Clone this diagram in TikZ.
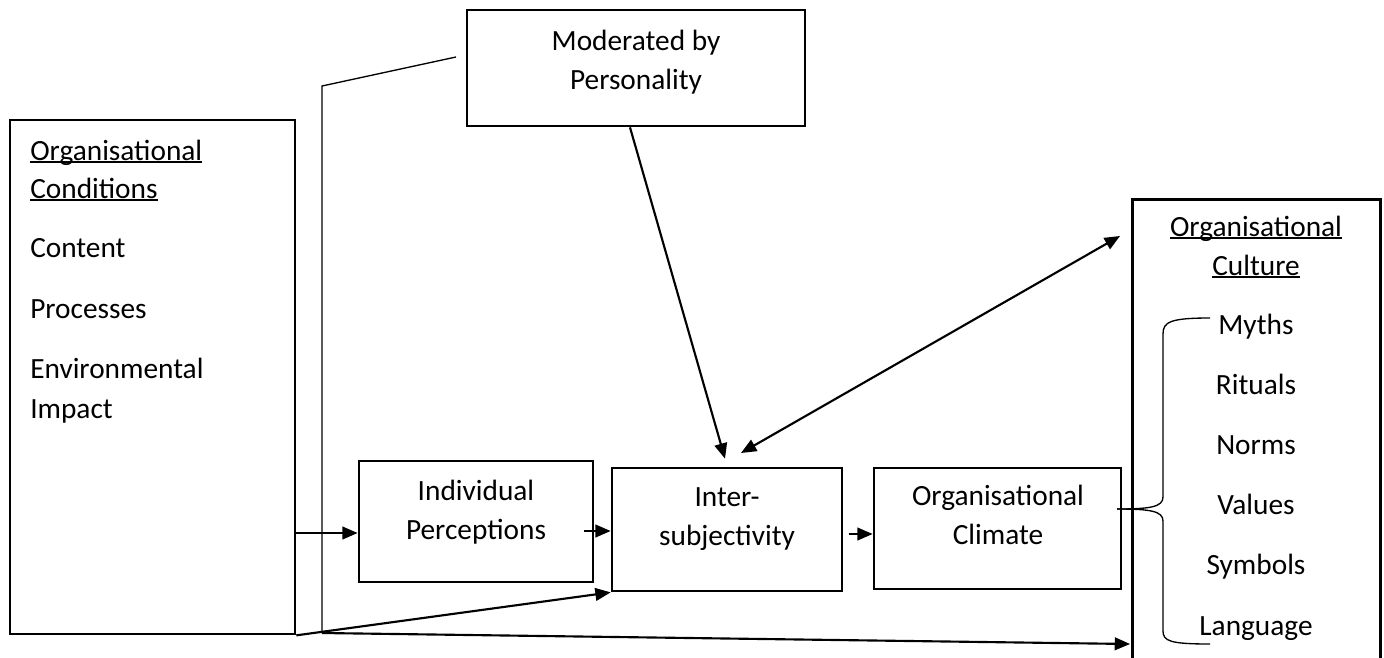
\documentclass[tikz,border=0pt]{standalone}
\usepackage{fontspec}
\setmainfont{Carlito}
\usetikzlibrary{arrows.meta,fit}

\newcommand\ulword[1]{\setbox0\hbox{#1}\rlap{\rule[-2.4pt]{\wd0}{1.4pt}}\box0}

\tikzset{
  box/.style={draw, line width=2pt, inner sep=0pt},
  txt/.style={font=\fontsize{22}{29}\selectfont, inner sep=0pt},
  arr/.style={line width=1.6pt, -{Triangle[length=11.5pt,width=9.5pt]}},
  dblarr/.style={line width=1.6pt, {Triangle[length=11.5pt,width=9.5pt]}-{Triangle[length=11.5pt,width=9.5pt]}},
  thinline/.style={line width=1pt},
}

\begin{document}
\begin{tikzpicture}[x=0.75pt, y=-0.75pt]
\useasboundingbox (0,0) rectangle (1384,657);

    % Kaesten
    \node[box, fit={(10,120) (295,634)}] (cond) {};
    \node[box, fit={(467,10) (805,126)}] (mod) {};
    \node[box, fit={(359,461) (593,582)}] (ip) {};
    \node[box, fit={(612,468) (842,591)}] (inter) {};
    \node[box, fit={(874,468) (1121,589)}] (clim) {};
    \node[inner sep=0pt, fit={(1133,200) (1380,680)}] (cult) {};
    \draw[line width=2pt] (cult.south west) -- (cult.north west) -- (cult.north east) -- (cult.south east);

    % Texte
    \node[txt, anchor=base] (mod1) at (636,50) {Moderated by};
    \node[txt, anchor=base] (mod2) at (636,89) {Personality};
    \node[txt, anchor=base] (ip1) at (476,500) {Individual};
    \node[txt, anchor=base] (ip2) at (476,539) {Perceptions};
    \node[txt, anchor=base] (inter1) at (727,506) {Inter-};
    \node[txt, anchor=base] (inter2) at (727,545) {subjectivity};
    \node[txt, anchor=base] (clim1) at (998,505) {Organisational};
    \node[txt, anchor=base] (clim2) at (998,544) {Climate};

    \node[txt, anchor=base west] (condh1) at (30,160) {\ulword{Organisational}};
    \node[txt, anchor=base west] (condh2) at (30,198) {\ulword{Conditions}};
    \foreach \t/\y [count=\i] in {Content/257, Processes/318, Environmental/378, Impact/418}
        \node[txt, anchor=base west] (cond\i) at (30,\y) {\t};

    \node[txt, anchor=base] (culth1) at (1256,236) {\ulword{Organisational}};
    \node[txt, anchor=base] (culth2) at (1256,275) {\ulword{Culture}};
    \foreach \t [count=\i] in {Myths,Rituals,Norms,Values,Symbols,Language}
        \node[txt, anchor=base] (item\i) at (1256,{334+60.2*(\i-1)}) {\t};

    % Klammer
    \coordinate (brtip) at (1117,509);
    \draw[thinline] (1210,318) .. controls (1170,318) and (1163,322) .. (1163,334)
        -- (1163,497) .. controls (1163,507) and (1150,509) .. (brtip);
    \draw[thinline] (brtip) .. controls (1150,509) and (1163,511) .. (1163,521)
        -- (1163,631) .. controls (1163,641) and (1170,644) .. (1210,644);

    % Duenne Linie
    \coordinate (lfree) at (456,57);
    \coordinate (lknee) at (322,86);
    \coordinate (lfoot) at (322,633);
    \draw[thinline] (lfree) -- (lknee) -- (lfoot);

    % Pfeile
    \draw[arr] (cond.east |- 0,533) -- (ip.west |- 0,533);
    \draw[arr] ([xshift=-8pt]ip.east |- 0,531) -- (inter.west |- 0,531);
    \draw[arr] ([xshift=4pt]inter.east |- 0,534) -- (clim.west |- 0,534);
    \draw[arr] (cond.south east) -- (inter.south west);
    \draw[arr] ([xshift=-4.5pt]mod.south) -- ([yshift=6pt,xshift=-1.5pt]inter.north);
    \coordinate (dbla) at (741,453);
    \coordinate (dblb) at (1120,236);
    \draw[dblarr] (dbla) -- (dblb);
    \draw[arr] (lfoot) -- ([xshift=-2pt]cult.west |- 0,644);

\end{tikzpicture}
\end{document}
